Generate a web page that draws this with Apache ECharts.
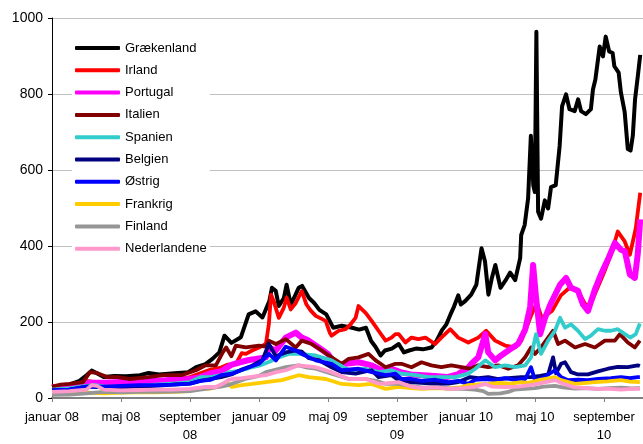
<!DOCTYPE html>
<html>
<head>
<meta charset="utf-8">
<script src="https://cdn.jsdelivr.net/npm/echarts@6/dist/echarts.min.js"></script>
<style>html,body{margin:0;padding:0;background:#fff;overflow:hidden;width:643px;height:444px;}#c{width:676px;height:444px;}</style>
</head>
<body>
<div id="c"></div>
<script>
// x values are months since januar 2008
const tickLabels = ['januar 08','maj 08','september\n08','januar 09','maj 09','september\n09','januar 10','maj 10','september\n10',''];
const seriesNames = ['Grækenland','Irland','Portugal','Italien','Spanien','Belgien','Østrig','Frankrig','Finland','Nederlandene'];
const seriesColors = ['#000000','#FF0000','#FF00FF','#800000','#33CCCC','#000080','#0000FF','#FFCC00','#969696','#FF99CC'];

const greece = [[0,30],[0.5,32],[1,35],[1.6,45],[2.0,60],[2.3,72],[2.6,65],[3.0,55],[3.6,58],[4.3,57],[5.1,60],[5.6,66],[6.2,62],[7.1,65],[7.9,68],[8.35,81],[8.9,89],[9.3,103],[9.7,120],[10.0,164],[10.4,145],[10.95,160],[11.4,220],[11.8,228],[12.2,212],[12.6,255],[12.75,290],[12.97,282],[13.15,242],[13.44,263],[13.6,298],[13.84,246],[14.1,270],[14.3,290],[14.5,295],[14.9,263],[15.2,250],[15.5,232],[15.9,220],[16.3,185],[16.8,190],[17.4,185],[17.8,180],[18.2,185],[18.5,150],[18.75,135],[19.05,112],[19.3,125],[19.7,130],[20.1,142],[20.4,120],[20.7,125],[21.1,130],[21.5,128],[22.0,133],[22.3,151],[22.6,178],[22.85,193],[23.1,220],[23.3,240],[23.55,270],[23.7,246],[23.95,255],[24.3,272],[24.6,298],[24.9,394],[25.1,360],[25.3,272],[25.5,316],[25.7,350],[26.0,290],[26.3,310],[26.56,330],[26.85,310],[27.14,368],[27.2,429],[27.4,455],[27.6,525],[27.76,690],[27.9,560],[27.99,542],[28.08,964],[28.18,490],[28.35,472],[28.57,520],[28.76,499],[28.93,555],[29.2,560],[29.43,664],[29.57,768],[29.8,799],[30.0,760],[30.3,755],[30.5,786],[30.67,755],[30.95,747],[31.24,760],[31.36,812],[31.5,838],[31.75,925],[31.94,899],[32.1,951],[32.3,912],[32.5,908],[32.6,873],[32.85,856],[32.98,804],[33.2,752],[33.38,655],[33.54,651],[33.67,690],[33.8,786],[33.96,847],[34.1,903]];

const ireland = [[0,28],[1,30],[2,45],[2.5,42],[3,38],[4,40],[5,45],[6,42],[7,48],[8,55],[8.6,65],[9.2,75],[9.8,80],[10.2,88],[10.66,90],[11.0,118],[11.24,116],[11.6,125],[12.0,133],[12.4,142],[12.57,194],[12.7,272],[12.85,255],[13.15,211],[13.44,238],[13.6,264],[13.84,233],[14.13,250],[14.48,281],[14.75,246],[15.0,230],[15.29,216],[15.87,203],[16.1,172],[16.21,164],[16.62,177],[17.02,181],[17.31,194],[17.6,211],[17.77,242],[18.18,224],[18.53,203],[18.93,177],[19.34,151],[19.68,159],[19.91,168],[20.1,168],[20.49,146],[20.84,159],[21.24,155],[21.65,159],[22.2,142],[22.57,159],[23.09,181],[23.55,159],[24.13,146],[24.71,159],[25.17,177],[25.69,151],[26.27,138],[26.85,133],[27.2,150],[27.5,185],[27.8,220],[28.1,250],[28.4,210],[29.0,230],[29.5,270],[30.0,290],[30.5,280],[31.0,240],[31.3,255],[32.0,330],[32.4,377],[32.8,438],[33.2,412],[33.5,377],[33.84,446],[34.1,540]];

const portugal = [[0,28],[1,30],[2,40],[3,40],[4,42],[5,45],[6,45],[7,48],[8,50],[8.6,55],[9.2,65],[9.8,70],[10.43,88],[10.9,94],[11.42,100],[12.0,104],[12.4,107],[12.57,133],[12.98,125],[13.55,159],[14.13,172],[14.48,159],[14.88,151],[15.46,133],[16.0,116],[16.45,86],[17.02,90],[17.77,94],[18.53,86],[19.1,73],[19.68,77],[20.2,68],[20.8,62],[21.5,60],[22.2,58],[22.9,55],[23.5,62],[24.13,80],[24.31,90],[24.71,107],[25.12,168],[25.29,120],[25.69,99],[26.04,112],[26.45,125],[27.02,142],[27.43,180],[27.72,240],[27.89,350],[28.06,264],[28.3,168],[28.58,211],[28.93,250],[29.45,298],[29.8,316],[30.09,290],[30.49,282],[30.78,246],[31.07,229],[31.47,285],[31.82,325],[32.23,365],[32.63,408],[32.98,390],[33.21,386],[33.5,325],[33.79,316],[33.96,380],[34.1,470]];

const italy = [[0,30],[0.5,35],[1,37],[1.8,42],[2.2,68],[2.6,66],[3.2,55],[3.8,55],[4.5,50],[5.6,55],[6.5,60],[7.5,60],[8.35,73],[8.9,86],[9.5,86],[9.9,120],[10.1,133],[10.4,110],[10.66,138],[11.24,133],[12.0,138],[12.4,135],[12.57,151],[12.98,142],[13.55,155],[14.13,133],[14.48,151],[15.06,142],[15.64,125],[16.21,107],[16.79,90],[17.2,103],[17.77,107],[18.35,116],[18.76,99],[19.34,81],[19.91,90],[20.26,90],[20.84,81],[21.42,94],[21.99,86],[22.57,81],[23.15,86],[23.73,81],[24.25,77],[24.71,86],[25.29,81],[25.87,86],[26.45,77],[27.02,86],[27.43,107],[27.77,133],[28.0,116],[28.35,133],[28.76,159],[29.05,177],[29.34,142],[29.74,151],[30.32,133],[30.9,142],[31.47,133],[32.05,151],[32.63,151],[32.92,168],[33.38,146],[33.79,133],[34.08,151]];

const spain = [[0,22],[1,25],[2,32],[2.5,34],[3,30],[4,30],[5,32],[6,35],[7,38],[8,42],[8.6,55],[9.2,55],[9.8,60],[10.3,68],[10.9,72],[11.5,80],[12.0,85],[12.57,95],[13.15,107],[13.73,116],[14.3,116],[15.29,112],[16.21,99],[17.2,73],[18.18,77],[18.93,68],[19.68,73],[20.26,64],[21.07,60],[21.82,55],[22.57,55],[23.38,55],[24.13,64],[24.54,77],[25.12,99],[25.69,81],[26.27,86],[26.85,81],[27.43,86],[27.77,107],[28.06,168],[28.35,116],[28.76,151],[29.16,177],[29.45,211],[29.74,185],[30.09,194],[30.49,177],[30.9,155],[31.24,164],[31.65,181],[32.05,177],[32.4,177],[32.8,181],[33.21,168],[33.53,159],[33.84,168],[34.08,196]];

const belgium = [[0,20],[1,22],[2,30],[3,28],[4,28],[5,30],[6,32],[7,35],[8,38],[8.6,45],[9.2,50],[9.8,55],[10.4,62],[11.0,75],[11.6,85],[12.2,100],[12.57,142],[12.98,110],[13.55,120],[14.13,125],[14.48,122],[14.88,105],[15.46,100],[16.21,81],[16.79,68],[17.6,64],[18.18,70],[18.53,73],[18.93,55],[19.68,60],[20.09,47],[20.66,42],[21.42,40],[22.23,37],[22.98,38],[23.55,42],[24.25,55],[24.71,52],[25.29,55],[25.87,50],[26.45,52],[27.2,55],[27.77,55],[28.3,58],[28.76,62],[29.05,107],[29.22,65],[29.51,90],[29.74,94],[30.09,68],[30.49,62],[31.07,62],[31.65,70],[32.23,77],[32.8,82],[33.38,81],[33.96,86],[34.08,84]];

const austria = [[0,20],[1,22],[2,30],[3,30],[4,32],[5,34],[6,34],[7,35],[8,38],[8.6,45],[9.2,48],[9.8,60],[10.43,64],[11.42,81],[12.0,90],[12.57,116],[12.98,99],[13.55,135],[14.13,125],[14.48,116],[15.29,99],[16.21,90],[16.79,73],[17.77,77],[18.53,68],[19.34,60],[19.91,64],[20.26,50],[20.84,50],[21.42,45],[22.23,48],[22.98,42],[23.55,45],[24.13,37],[24.54,48],[25.12,50],[25.69,47],[26.27,52],[26.85,48],[27.43,50],[27.77,81],[28.0,47],[28.35,50],[29.16,73],[29.5,55],[29.91,47],[30.5,48],[31.07,47],[31.65,50],[32.4,52],[32.98,55],[33.5,52],[33.96,55],[34.08,55]];

const france = [[0,10],[1,12],[2,14],[3,12],[4,14],[5,15],[6,15],[7,16],[8,18],[8.35,24],[9.2,25],[9.8,32],[10.1,42],[10.43,29],[11.0,34],[11.6,37],[12.4,42],[13.32,47],[14.3,60],[14.88,55],[15.87,50],[16.79,37],[17.77,34],[18.53,37],[19.34,24],[20.09,29],[20.8,26],[21.5,24],[22.2,26],[23.0,25],[23.7,28],[24.13,34],[24.7,36],[25.29,37],[25.87,40],[26.6,38],[27.2,42],[27.6,40],[28.3,48],[29.16,55],[29.51,47],[30.32,37],[31.0,40],[31.47,42],[32.2,44],[32.98,47],[33.5,43],[34.08,42]];

const finland = [[0,8],[1,9],[2,12],[3,16],[4,15],[5,16],[6,16],[7,17],[8,18],[8.6,22],[9.2,26],[9.8,30],[10.2,34],[10.6,40],[11.2,50],[12.0,58],[12.4,68],[13.0,75],[13.55,81],[14.3,86],[14.8,80],[15.29,77],[16.21,64],[17.2,50],[18.18,50],[18.8,45],[19.34,37],[20.09,37],[20.8,32],[21.5,27],[22.2,28],[23.0,25],[23.8,24],[24.5,22],[25.0,18],[25.29,11],[26.0,12],[26.45,16],[26.8,22],[27.4,24],[28.0,26],[28.5,30],[29.16,32],[29.6,28],[30.3,25],[31.0,26],[31.6,24],[32.3,26],[33.0,27],[33.6,25],[34.08,26]];

const netherlands = [[0,16],[1,18],[2,22],[2.3,34],[2.6,32],[3,22],[4,20],[5,21],[6,22],[7,22],[8,24],[8.9,29],[9.5,29],[10.0,40],[10.2,47],[10.43,50],[11.0,52],[12.0,58],[12.4,60],[13.0,68],[13.55,73],[14.3,86],[15.29,81],[16.21,68],[17.2,50],[18.18,50],[19.0,37],[20.09,42],[20.8,30],[21.5,26],[22.3,28],[23.0,24],[23.8,26],[24.5,29],[25.12,37],[25.5,30],[26.3,29],[27.0,30],[27.7,34],[28.2,38],[29.16,47],[29.6,38],[30.3,28],[31.0,26],[31.6,24],[32.3,24],[33.0,22],[33.6,24],[34.08,24]];

const allData = [greece, ireland, portugal, italy, spain, belgium, austria, france, finland, netherlands];
const widths = [4,3.8,6,3.8,3.8,3.8,3.8,3.8,3.8,3.8];

const chart = echarts.init(document.getElementById('c'), null, {renderer:'canvas', width: 676, height: 444});
const FONT = 'Liberation Sans, Arial, sans-serif';
chart.setOption({
  animation: false,
  backgroundColor: '#fff',
  grid: {left: 52, top: 18, bottom: 43, right: 0, containLabel: false},
  legend: {
    orient: 'vertical', left: 72, top: 35,
    backgroundColor: '#fff',
    padding: [6, 3, 6, 3],
    itemWidth: 45, itemHeight: 4, itemGap: 8.3,
    icon: 'roundRect',
    textStyle: {fontFamily: FONT, fontSize: 13, color: '#000', lineHeight: 14},
    data: seriesNames
  },
  xAxis: {
    type: 'value', min: 0, max: 36, interval: 4,
    axisLine: {show: true, lineStyle: {color: '#808080', width: 2}},
    axisTick: {show: true, length: 4, lineStyle: {color: '#808080', width: 1}},
    splitLine: {show: false},
    axisLabel: {
      interval: 0, hideOverlap: false, margin: 10,
      fontFamily: FONT, fontSize: 13, color: '#000', lineHeight: 18,
      formatter: v => tickLabels[Math.round(v / 4)] || ''
    }
  },
  yAxis: {
    type: 'value', min: 0, max: 1000, interval: 200,
    axisLine: {show: true, lineStyle: {color: '#000', width: 1}},
    axisTick: {show: true, length: 4, lineStyle: {color: '#000'}},
    splitLine: {show: true, lineStyle: {color: '#c0c0c0', width: 1}},
    axisLabel: {fontFamily: FONT, fontSize: 14, color: '#000', margin: 9, formatter: v => String(v)}
  },
  series: seriesNames.map((n, i) => ({
    name: n, type: 'line', data: allData[i],
    showSymbol: false, symbol: 'none',
    lineStyle: {color: seriesColors[i], width: widths[i], join: 'round'},
    itemStyle: {color: seriesColors[i]},
    emphasis: {disabled: true}
  }))
});
</script>
</body>
</html>
